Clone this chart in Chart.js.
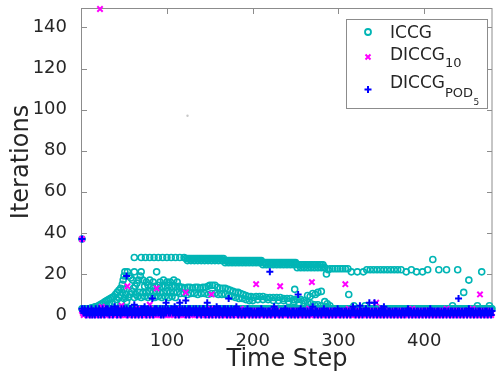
<!DOCTYPE html>
<html><head><meta charset="utf-8">
<script src="https://cdn.jsdelivr.net/npm/chart.js@4.4.1/dist/chart.umd.min.js"></script>
<style>html,body{margin:0;padding:0;background:#fff;}canvas{display:block;}</style>
</head><body>
<canvas id="c" width="498" height="371"></canvas>
<script>
// ---------------- DATA ----------------
const seriesNames = ['ICCG', 'DICCG10', 'DICCGPOD5'];
const xTickValues = [100, 200, 300, 400];
const yTickValues = [0, 20, 40, 60, 80, 100, 120, 140];

// ICCG baseline iterations, one value per time step 1..479
const iccgBaseIters = [
3,3,3,3,3,3,3,3,3,3,3,3,3,3,3,3,3,3,3,3,3,3,3,3,3,3,3,3,3,3,3,3,3,3,3,3,3,3,3,3,
3,3,3,3,3,3,3,3,3,3,3,3,3,3,3,3,3,3,3,3,3,3,3,3,3,3,3,3,3,3,3,3,3,3,3,3,3,3,3,3,
3,3,3,3,3,3,3,3,3,3,3,3,3,3,3,3,3,3,3,3,3,3,3,3,3,3,3,3,3,3,3,3,3,3,3,3,3,3,3,3,
3,3,3,3,3,3,3,3,3,3,3,3,3,3,3,3,3,3,3,3,3,3,3,3,3,3,3,3,3,3,3,3,3,3,3,3,3,3,3,3,
3,3,3,3,3,3,3,3,3,3,3,3,3,3,3,3,3,3,3,3,3,3,3,3,3,3,3,3,3,3,3,3,3,3,3,3,3,3,3,3,
3,3,3,3,3,3,3,3,3,3,3,3,3,3,3,3,3,3,3,3,3,3,3,3,3,3,3,3,3,3,3,3,3,3,3,3,3,3,3,3,
3,3,3,3,3,3,3,3,3,3,3,3,3,3,3,3,3,3,3,3,3,3,3,3,3,3,3,3,3,3,3,3,3,3,3,3,3,3,3,3,
3,3,3,3,3,3,3,3,3,3,3,3,3,3,3,3,3,3,3,3,3,3,3,3,3,3,3,3,3,3,3,3,3,3,3,3,3,3,3,3,
3,3,3,3,3,3,3,3,3,3,3,3,3,3,3,3,3,3,3,3,3,3,3,3,3,3,3,3,3,3,3,3,3,3,3,3,3,3,3,3,
3,3,3,3,3,3,3,3,3,3,3,3,3,3,3,3,3,3,3,3,3,3,3,3,3,3,3,3,3,3,3,3,3,3,3,3,3,3,3,3,
3,3,3,3,3,3,3,3,3,3,3,3,3,3,3,3,3,3,3,3,3,3,3,3,3,3,3,3,3,3,3,3,3,3,3,3,3,3,3,3,
3,3,3,3,3,3,3,3,3,3,3,3,3,3,3,3,3,3,3,3,3,3,3,3,3,3,3,3,3,3,3,3,3,3,3,3,3,3,3
];

// ICCG upper band
const iccgUpperSteps = [62,
70,75,80,85,90,95,100,105,110,115,120,
122,124,126,128,130,132,134,136,138,140,142,144,146,148,150,152,154,156,158,160,162,164,166,
168,170,172,174,176,178,180,182,184,186,188,190,192,194,196,198,200,202,204,206,208,210,
212,214,216,218,220,222,224,226,228,230,232,234,236,238,240,242,244,246,248,250,
252,254,256,258,260,262,264,266,268,270,272,274,276,278,280,282,
284,286,288,
290,293,296,299,302,305,308,311,
315,322,329,
333,337,341,345,349,353,357,361,365,369,373,
379,385,391,398,404,410,417,426,439,467];
const iccgUpperIters = [28,
28,28,28,28,28,28,28,28,28,28,28,
27.5,27.5,27.5,27.5,27.5,27.5,27.5,27.5,27.5,27.5,27.5,27.5,27.5,27.5,27.5,27.5,27.5,27.5,27.5,27.5,27.5,27.5,27.5,
26.5,26.5,26.5,26.5,26.5,26.5,26.5,26.5,26.5,26.5,26.5,26.5,26.5,26.5,26.5,26.5,26.5,26.5,26.5,26.5,26.5,26.5,
25.5,25.5,25.5,25.5,25.5,25.5,25.5,25.5,25.5,25.5,25.5,25.5,25.5,25.5,25.5,25.5,25.5,25.5,25.5,25.5,
24.5,24.5,24.5,24.5,24.5,24.5,24.5,24.5,24.5,24.5,24.5,24.5,24.5,24.5,24.5,24.5,
23,20,22,
22.5,22.5,22.5,22.5,22.5,22.5,22.5,22.5,
21,21,21,
22,22,22,22,22,22,22,22,22,22,22,
21,22,21,21,22,27,22,22,22,21];

// ICCG second row of the upper band
const iccgUpper2Steps = [124,128,132,136,140,144,148,152,156,160,164,
168,172,176,180,184,188,192,196,200,204,208,
212,216,220,224,228,232,236,240,244,248,
252,256,260,264,268,272,276,280,284];
const iccgUpper2Iters = [26.5,26.5,26.5,26.5,26.5,26.5,26.5,26.5,26.5,26.5,26.5,
25.5,25.5,25.5,25.5,25.5,25.5,25.5,25.5,25.5,25.5,25.5,
24.5,24.5,24.5,24.5,24.5,24.5,24.5,24.5,24.5,24.5,
23,23,23,23,23,23,23,23,23];

// ICCG middle cloud
const iccgMidSteps = [1,
12,14,16,18,20,22,24,26,28,30,32,34,36,38,40,42,44,46,48,49,50,51,
28,32,36,40,42,44,46,48,50,47,50,52,
53,55,57,59,61,63,65,67,69,70,
54,56,58,60,62,88,
72,76,80,84,92,96,100,104,108,112,
74,78,82,86,90,94,98,102,106,110,114,
64,68,72,76,80,84,88,92,96,100,104,108,112,
62,66,70,74,78,82,86,90,94,98,102,106,110,
115,118,121,124,127,130,133,136,139,142,145,148,150,153,156,159,162,165,168,171,
116,120,124,128,132,136,140,144,148,152,156,160,164,168,
174,177,180,183,186,189,192,195,198,201,
172,176,180,184,188,192,196,200,
204,208,212,216,220,224,228,232,236,240,244,248,252,256,260,
206,212,218,224,230,236,242,248,254,260,
249,264,267,270,273,276,280,284,287,312,264,268,272,276,280,286,290,318,331,433,446,452,462,476];
const iccgMidIters = [37,
3.5,3.5,4,4,4.5,5,5.5,6,6.5,7,7.5,8,8.5,9,10,11,12,13,15,17,19,21,
4.5,5,5.5,6,7.5,8.5,9.5,11,12.5,6.5,8,10,
6.5,8.5,10,11.5,13,14,15.5,17,19,21,
21,19,18,17,21,21,
17,16,17,16,16,17,16,16,17,16,
14,14.5,14,14,14.5,14,14,14.5,14,14,14,
10,11,11,11,11.5,11,11.5,11,11,11.5,11,11,11,
8.5,9,8.5,9,8.5,9,8.5,9,8.5,9,8.5,9,8.5,
13.5,13.5,13,13.5,13.5,13,13.5,13.5,13,13.5,13.5,14,14.5,14.5,14.5,13.5,13,13,13,12.5,
10.5,10.5,10,10.5,10.5,10,10.5,10.5,10,10.5,10.5,10,10,10,
12,11.5,11,11,10.5,10,9.5,9,9,8.5,
9.5,9,8.5,8,8,7.5,7,7,
9,9,9,8.5,8.5,8.5,8.5,8.5,8,8,8,7.5,7.5,7.5,7,
7.5,7.5,7.5,7,7,7,6.5,6.5,6,6,
12.5,9.5,9,10.5,10,11,11.5,6.5,5.5,10,6,5.5,5,5,4.5,4,4.5,4.5,4.5,4.5,11,17,4.5,4.5];

// DICCG_10 baseline iterations, one per time step 1..479
const d10BaseIters = [
2,1,0,1,1,2,0,1,2,0,2,1,0,1,2,0,1,1,0,2,1,0,2,3,1,0,2,1,0,1,1,2,0,1,2,0,2,1,0,2,
1,1,0,2,1,0,2,2,0,1,2,0,1,1,0,2,1,0,2,1,1,0,2,1,0,3,1,2,0,1,1,0,2,1,0,2,1,1,0,2,
1,0,1,2,0,1,2,0,1,1,0,2,1,0,2,1,2,0,1,1,0,2,1,0,2,1,1,0,2,1,0,3,1,2,0,1,1,0,2,1,
0,2,1,1,0,2,1,0,2,1,2,0,1,1,0,2,1,0,2,1,1,0,2,1,0,1,2,1,0,1,3,0,2,1,0,2,1,1,0,1,
2,0,1,1,0,2,1,0,2,2,0,1,2,0,1,1,0,2,1,1,0,1,2,0,1,3,0,2,1,0,2,1,1,0,2,1,0,2,1,2,
0,1,2,0,2,1,0,2,1,1,0,2,1,0,1,1,2,0,1,2,0,2,1,0,2,3,1,0,1,2,0,1,1,0,2,1,2,0,2,1,
0,2,1,1,0,1,2,0,2,1,2,0,1,1,0,2,1,0,2,1,1,0,2,1,0,3,1,2,0,1,1,0,2,1,0,2,1,1,0,2,
1,0,1,2,0,1,2,0,1,1,0,2,1,0,2,1,2,0,1,1,0,2,1,0,2,1,1,0,2,1,0,3,1,2,0,1,1,0,2,1,
0,2,1,1,0,2,1,0,2,1,2,0,1,1,0,2,1,0,2,1,1,0,2,1,0,1,2,1,0,1,3,0,2,1,0,2,1,1,0,1,
2,0,1,1,0,2,1,0,2,2,0,1,2,0,1,1,0,2,1,1,0,1,2,0,1,3,0,2,1,0,2,1,1,0,2,1,0,2,1,2,
0,1,2,0,2,1,0,2,1,1,0,2,1,0,1,1,2,0,1,2,0,2,1,0,2,3,1,0,1,2,0,1,1,0,2,1,2,0,2,1,
2,0,1,1,0,2,1,0,2,1,1,0,2,1,0,3,1,2,0,1,1,0,2,1,0,2,1,1,0,2,1,0,1,2,0,1,2,0,1
];
// DICCG_10 isolated points
const d10Steps = [1,22,24,47,54,80,88,122,152,204,232,269,308,344,465];
const d10Iters = [37,149,4,4.5,14,5,13,11,10,15,14,16,15,6,10];

// DICCG_POD_5 baseline iterations, one per time step 1..479
const podBaseIters = [
3,2,1,3,2,0,1,3,1,0,1,3,0,2,1,0,3,2,1,0,3,2,0,1,3,1,0,2,3,1,3,1,0,2,3,2,0,1,4,3,
2,0,3,2,1,0,3,1,2,3,1,2,3,0,2,1,3,3,0,1,2,3,0,2,1,3,0,1,2,3,0,2,3,4,1,0,2,3,2,0,
3,2,1,0,2,3,1,3,2,1,2,3,0,1,3,0,1,3,1,2,3,1,2,1,3,2,1,2,4,0,3,2,1,0,3,1,2,3,1,2,
3,0,2,1,3,0,3,2,1,2,3,1,2,3,0,2,1,3,1,0,2,3,3,1,0,2,3,2,0,1,3,1,0,2,3,2,0,4,1,3,
0,3,2,1,0,3,1,3,1,0,3,1,2,0,3,2,1,0,2,3,4,1,0,2,1,2,0,1,2,1,0,2,1,3,1,0,2,1,2,0,
1,2,1,0,2,1,2,0,1,3,1,2,0,1,2,1,0,2,1,2,0,1,2,1,4,0,2,1,2,1,0,1,2,1,0,2,1,3,1,2,
0,1,2,1,0,2,1,2,0,1,2,1,0,2,1,3,1,0,2,1,2,0,1,2,1,0,2,1,2,4,1,0,2,1,2,0,1,2,1,0,
2,1,3,1,0,2,1,2,0,1,2,1,0,2,1,2,0,1,3,1,2,0,1,2,1,0,2,1,2,0,1,2,1,0,2,1,4,1,2,0,
1,2,1,0,2,1,2,0,1,2,1,3,0,2,1,2,0,1,2,1,0,2,1,2,0,1,2,1,0,3,1,2,0,1,2,1,0,2,1,2,
0,1,2,1,0,2,1,2,0,1,2,1,0,2,1,2,0,1,2,1,3,0,2,1,2,0,1,2,1,0,2,1,2,0,1,2,1,0,2,1,
2,0,1,2,1,0,3,1,2,0,1,2,1,0,2,1,2,0,1,2,1,0,2,1,2,0,1,2,1,0,2,1,2,0,1,2,1,0,2,1,
2,0,1,2,1,0,2,1,2,0,1,3,1,0,2,1,2,0,1,2,1,0,2,1,2,0,1,2,1,0,2,1,2,0,1,2,1,0,2
];
// DICCG_POD_5 isolated points
const podSteps = [1,53,62,83,99,115,122,147,172,220,253,325,336,342,353,440];
const podIters = [37,19,5,8,6,6,7,6,8,21,10,4.5,6,6,4,8];

// faint grey speck
const speckSteps = [124];
const speckIters = [97];

// ---------------- STYLE ----------------
const TEAL = '#00b5b5', MAGENTA = '#ff00ff', BLUE = '#0000ff';
const AXIS = '#8c8c8c', TEXT = '#262626';
const FONT = '"DejaVu Sans", sans-serif';

const pairs = (xs, ys) => xs.map((x, i) => ({x: x, y: ys[i]}));
const perStep = ys => ys.map((y, i) => ({x: i + 1, y: y}));

const iccgData = perStep(iccgBaseIters)
  .concat(pairs(iccgUpperSteps, iccgUpperIters))
  .concat(pairs(iccgUpper2Steps, iccgUpper2Iters))
  .concat(pairs(iccgMidSteps, iccgMidIters));
const d10Data = perStep(d10BaseIters).concat(pairs(d10Steps, d10Iters));
const podData = perStep(podBaseIters).concat(pairs(podSteps, podIters));

const framePlugin = {
  id: 'frame',
  beforeDatasetsDraw(chart) {
    const {ctx, chartArea: a, scales} = chart;
    ctx.save();
    ctx.strokeStyle = AXIS;
    ctx.lineWidth = 1;
    ctx.strokeRect(a.left - 0.5, a.top - 0.5, a.right - a.left + 0.5, a.bottom - a.top + 0.5);
    ctx.beginPath();
    const tl = 5;
    xTickValues.forEach(v => {
      const px = Math.round(scales.x.getPixelForValue(v)) + 0.5;
      ctx.moveTo(px, a.bottom); ctx.lineTo(px, a.bottom - tl);
      ctx.moveTo(px, a.top); ctx.lineTo(px, a.top + tl);
    });
    yTickValues.forEach(v => {
      const py = Math.round(scales.y.getPixelForValue(v)) + 0.5;
      ctx.moveTo(a.left, py); ctx.lineTo(a.left + tl, py);
      ctx.moveTo(a.right, py); ctx.lineTo(a.right - tl, py);
    });
    ctx.stroke();
    ctx.restore();
  }
};

const legendPlugin = {
  id: 'mlegend',
  afterDraw(chart) {
    const ctx = chart.ctx;
    ctx.save();
    ctx.fillStyle = '#fff';
    ctx.fillRect(346, 19, 142, 90);
    ctx.strokeStyle = AXIS; ctx.lineWidth = 1;
    ctx.strokeRect(346.5, 19.5, 141, 89);
    const mx = 368;
    ctx.strokeStyle = TEAL; ctx.lineWidth = 1.8;
    ctx.beginPath(); ctx.arc(mx, 32, 3, 0, Math.PI * 2); ctx.stroke();
    ctx.strokeStyle = MAGENTA; ctx.lineWidth = 2;
    ctx.beginPath();
    ctx.moveTo(mx - 2.5, 54.5); ctx.lineTo(mx + 2.5, 59.5);
    ctx.moveTo(mx + 2.5, 54.5); ctx.lineTo(mx - 2.5, 59.5);
    ctx.stroke();
    ctx.strokeStyle = BLUE; ctx.lineWidth = 2;
    ctx.beginPath();
    ctx.moveTo(mx - 3.5, 89.5); ctx.lineTo(mx + 3.5, 89.5);
    ctx.moveTo(mx, 86); ctx.lineTo(mx, 93);
    ctx.stroke();
    ctx.fillStyle = TEXT;
    ctx.textBaseline = 'alphabetic';
    ctx.textAlign = 'left';
    const tx = 390;
    ctx.font = '17px ' + FONT;
    ctx.fillText('ICCG', tx, 38);
    ctx.fillText('DICCG', tx, 60);
    const w = ctx.measureText('DICCG').width;
    ctx.font = '13px ' + FONT;
    ctx.fillText('10', tx + w, 66.5);
    ctx.font = '17px ' + FONT;
    ctx.fillText('DICCG', tx, 88);
    ctx.font = '13px ' + FONT;
    ctx.fillText('POD', tx + w, 96.5);
    const w2 = ctx.measureText('POD').width;
    ctx.font = '9px ' + FONT;
    ctx.fillText('5', tx + w + w2 + 0.5, 105);
    ctx.restore();
  }
};

new Chart(document.getElementById('c'), {
  type: 'scatter',
  data: {
    datasets: [
      { label: seriesNames[0], data: iccgData, order: 3, clip: false,
        pointStyle: 'circle', pointRadius: 3, borderWidth: 1.6,
        borderColor: TEAL, backgroundColor: 'rgba(0,0,0,0)' },
      { label: seriesNames[1], data: d10Data, order: 2, clip: false,
        pointStyle: 'crossRot', pointRadius: 3.8, borderWidth: 2,
        borderColor: MAGENTA, backgroundColor: MAGENTA },
      { label: seriesNames[2], data: podData, order: 1, clip: false,
        pointStyle: 'cross', pointRadius: 3.5, borderWidth: 2,
        borderColor: BLUE, backgroundColor: BLUE },
      { label: 'speck', data: pairs(speckSteps, speckIters), order: 4, clip: false,
        pointStyle: 'circle', pointRadius: 1.2, borderWidth: 0,
        backgroundColor: '#c8c8c8', borderColor: '#c8c8c8' }
    ]
  },
  options: {
    responsive: false,
    animation: false,
    devicePixelRatio: 1,
    events: [],
    layout: { padding: { left: 0, top: 9, right: 1, bottom: 0 } },
    plugins: { legend: { display: false }, tooltip: { enabled: false } },
    scales: {
      x: {
        type: 'linear', min: 1, max: 479,
        afterBuildTicks: s => { s.ticks = xTickValues.map(v => ({value: v})); },
        afterFit: s => { s.height = 56; s.paddingLeft = 0; s.paddingRight = 0; },
        grid: { display: false },
        border: { display: false },
        ticks: { color: TEXT, font: { family: FONT, size: 18 }, padding: 8, maxRotation: 0, autoSkip: false },
        title: { display: true, text: 'Time Step', color: TEXT,
                 font: { family: FONT, size: 24, lineHeight: 1 }, padding: { top: 0, bottom: -1 } }
      },
      y: {
        type: 'linear', min: 0, max: 149,
        afterBuildTicks: s => { s.ticks = yTickValues.map(v => ({value: v})); },
        afterFit: s => { s.width = 82; s.paddingTop = 0; s.paddingBottom = 0; },
        grid: { display: false },
        border: { display: false },
        ticks: { color: TEXT, font: { family: FONT, size: 18 }, padding: 7, autoSkip: false },
        title: { display: true, text: 'Iterations', color: TEXT,
                 font: { family: FONT, size: 24, lineHeight: 1 }, padding: { top: 10, bottom: 0 } }
      }
    }
  },
  plugins: [framePlugin, legendPlugin]
});
</script>
</body></html>
